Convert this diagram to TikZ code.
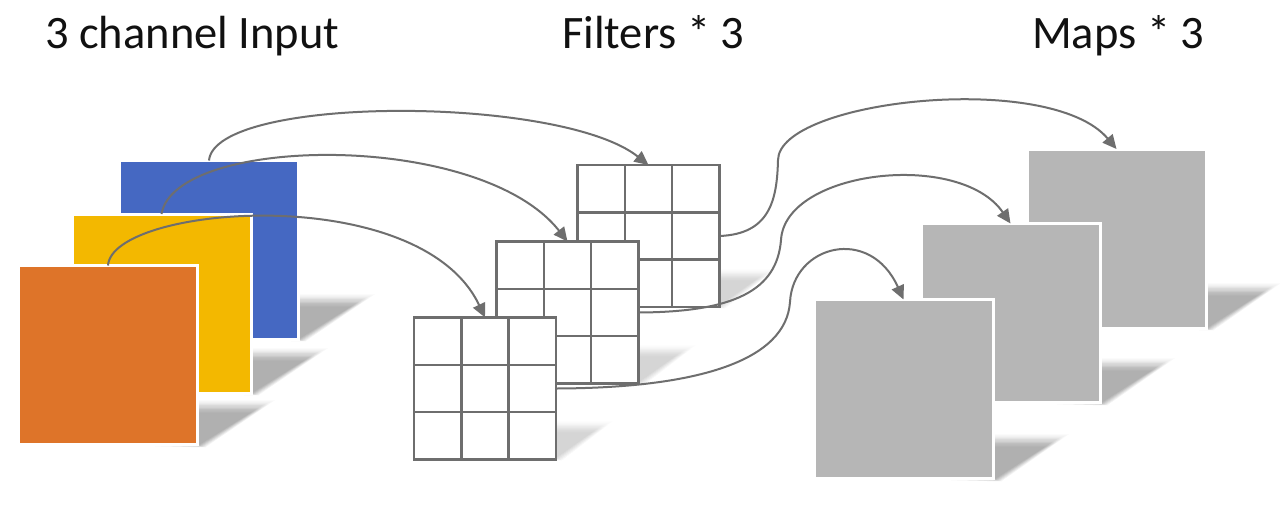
\documentclass[tikz,border=0pt]{standalone}
\usepackage{fontspec}
\setmainfont{Carlito}
\usetikzlibrary{arrows.meta,calc}
\definecolor{inblue}{HTML}{4568C2}
\definecolor{inyellow}{HTML}{F3B800}
\definecolor{inorange}{HTML}{DE7429}
\definecolor{mapgray}{HTML}{B6B6B6}
\definecolor{linegray}{HTML}{6E6E6E}
\definecolor{titlec}{HTML}{111111}

% #1 right x, #2 bottom y, #3 dx, #4 dy, #5 opacity per layer
\newcommand\castshadow[5]{%
  \foreach \f in {1,0.9,0.8}{
    \foreach \e in {0,2,...,12}{
      \fill[black, opacity=#5]
        ({#1-80},{#2-1}) -- ({#1+\e*0.5},{#2-1+\e*0.2})
        -- ({#1+\f*#3+\e},{#2-\f*#4-\e*0.4}) -- ({#1-80+\f*#3},{#2-\f*#4-\e*0.4}) -- cycle;
    }
  }
}

\begin{document}
\begin{tikzpicture}[x=1pt,y=-1pt,
  sheet/.style={draw=white, line width=3pt, minimum size=179pt, inner sep=0pt, outer sep=0pt},
  filt/.style={draw=linegray, fill=white, line width=2.5pt, minimum size=142pt, inner sep=0pt, outer sep=0pt,
    path picture={
      \foreach \k in {1,2}{
        \draw[linegray, line width=2.5pt]
          ($(path picture bounding box.north west)!\k/3!(path picture bounding box.north east)$) --
          ($(path picture bounding box.south west)!\k/3!(path picture bounding box.south east)$);
        \draw[linegray, line width=2.5pt]
          ($(path picture bounding box.north west)!\k/3!(path picture bounding box.south west)$) --
          ($(path picture bounding box.north east)!\k/3!(path picture bounding box.south east)$);
      }}},
  title/.style={anchor=base west, inner sep=0pt, text=titlec, font=\fontsize{46.5}{56}\selectfont},
  conn/.style={draw=linegray, line width=2pt, -{Triangle[length=14pt,width=13pt]}}
]
\useasboundingbox (0,0) rectangle (1280,507);
\fill[white] (0,0) rectangle (1280,507);

% shadows
\castshadow{299}{340}{64}{41}{0.014}
\castshadow{252}{394}{64}{41}{0.014}
\castshadow{199}{446}{64}{41}{0.014}
\castshadow{719}{307}{45}{33}{0.008}
\castshadow{639}{383}{45}{33}{0.008}
\castshadow{556}{459}{45}{33}{0.008}
\castshadow{1207}{329}{62}{41}{0.014}
\castshadow{1101}{404}{62}{41}{0.014}
\castshadow{995}{480}{62}{41}{0.014}

% input channels
\node[sheet, fill=inblue]   (blue)   at (209,250)   {};
\node[sheet, fill=inyellow] (yellow) at (161.5,303.5) {};
\node[sheet, fill=inorange] (orange) at (108,355)   {};

% filters
\node[filt] (f3) at (648.5,236) {};
\node[filt] (f2) at (567.5,312.5) {};
\node[filt] (f1) at (485,388.5) {};

% maps
\node[sheet, fill=mapgray] (m3) at (1116.5,238.5) {};
\node[sheet, fill=mapgray] (m2) at (1010.5,313) {};
\node[sheet, fill=mapgray] (m1) at (903.5,389) {};

% titles
\node[title] (t1) at (45,48) {3 channel Input};
\node[title] (t2) at (562,48) {Filters * 3};
\node[title] (t3) at (1032,48) {Maps * 3};

% input -> filter
\draw[conn] (blue.north) .. controls (215,95) and (560,95) .. (f3.north);
\draw[conn] (yellow.north) .. controls (175,135) and (480,130) .. (f2.north);
\draw[conn] (orange.north) .. controls (112,205) and (420,180) .. (f1.north);

% filter -> map
\coordinate (b1) at (778,160);
\coordinate (b2) at (781,240);
\coordinate (b3) at (790,302);
\draw[conn] (f3.east) .. controls (770,234) and (777,200) .. (b1)
  .. controls (779,100) and (1050,70) .. (m3.north);
\draw[conn] (f2.east) .. controls (735,312) and (777,290) .. (b2)
  .. controls (785,170) and (960,150) .. (m2.north);
\draw[conn] (f1.east) .. controls (700,388) and (786,360) .. (b3)
  .. controls (793,245) and (870,225) .. (m1.north);
\end{tikzpicture}
\end{document}
